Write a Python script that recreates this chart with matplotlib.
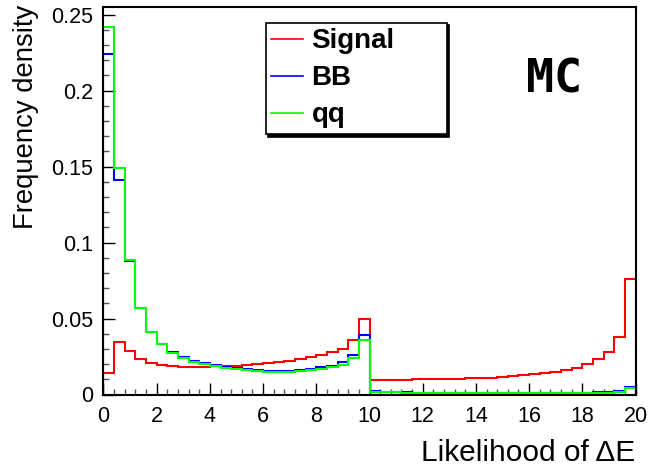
import numpy as np
import matplotlib
matplotlib.use("Agg")
import matplotlib.pyplot as plt
from matplotlib.lines import Line2D
from matplotlib.ticker import MultipleLocator, FixedLocator, FixedFormatter

# Histogram binning: 50 bins of width 0.4 over [0, 20]
x_min, x_max, n_bins = 0.0, 20.0, 50

# Normalised frequency densities per bin
signal = [0.0139, 0.0343, 0.0288, 0.0234, 0.0207, 0.0194, 0.0188, 0.0184, 0.0184, 0.0184, 0.0186, 0.0188,
          0.0190, 0.0194, 0.0198, 0.0205, 0.0212, 0.0220, 0.0231, 0.0249, 0.0260, 0.0278, 0.0297, 0.0359, 0.0497,
          0.0095, 0.0096, 0.0097, 0.0098, 0.0099, 0.0100, 0.0101, 0.0102, 0.0104, 0.0106, 0.0107, 0.0109, 0.0113,
          0.0120, 0.0126, 0.0133, 0.0139, 0.0150, 0.0163, 0.0174, 0.0199, 0.0232, 0.0278, 0.0378, 0.0760]

bb = [0.224, 0.141, 0.0877, 0.0570, 0.0413, 0.0332, 0.0282, 0.0247, 0.0222, 0.0205, 0.0196, 0.0184,
      0.0172, 0.0165, 0.0161, 0.0157, 0.0157, 0.0157, 0.0161, 0.0170, 0.0179, 0.0190, 0.0212, 0.0260, 0.0394,
      0.0020, 0.0018, 0.0016, 0.0014, 0.0013, 0.0012, 0.0011, 0.0011, 0.0010, 0.0010, 0.0010, 0.0010, 0.0010,
      0.0010, 0.0010, 0.0010, 0.0010, 0.0010, 0.0010, 0.0011, 0.0012, 0.0014, 0.0017, 0.0025, 0.0051]

qq = [0.242, 0.149, 0.0888, 0.0570, 0.0413, 0.0332, 0.0276, 0.0243, 0.0214, 0.0201, 0.0190, 0.0176,
      0.0166, 0.0158, 0.0153, 0.0150, 0.0150, 0.0150, 0.0153, 0.0161, 0.0167, 0.0179, 0.0194, 0.0238, 0.0359,
      0.0018, 0.0016, 0.0014, 0.0012, 0.0011, 0.0010, 0.0009, 0.0009, 0.0008, 0.0008, 0.0008, 0.0008, 0.0008,
      0.0008, 0.0008, 0.0008, 0.0008, 0.0008, 0.0008, 0.0009, 0.0010, 0.0011, 0.0013, 0.0018, 0.0041]

series_names = ["Signal", "BB", "qq"]
series_colors = ["#ff0000", "#0000ff", "#00ff00"]

x_ticks = [0, 2, 4, 6, 8, 10, 12, 14, 16, 18, 20]
y_ticks = [0, 0.05, 0.1, 0.15, 0.2, 0.25]
y_tick_labels = ["0", "0.05", "0.1", "0.15", "0.2", "0.25"]

x_label = "Likelihood of \u0394E"
y_label = "Frequency density"
tag = "MC"

plt.rcParams["font.family"] = ["Liberation Sans", "DejaVu Sans"]

W, H = 648, 468
fig = plt.figure(figsize=(W / 100, H / 100), dpi=100)
ax = fig.add_axes([103.5 / W, 1 - 394.5 / H, 532 / W, 387.5 / H])

edges = np.linspace(x_min, x_max, n_bins + 1)
for vals, col in zip([signal, bb, qq], series_colors):
    ax.stairs(vals, edges, baseline=0, color=col, lw=1.5, zorder=3)

ax.set_xlim(x_min, x_max)
ax.set_ylim(0, 0.255)

ax.xaxis.set_major_locator(FixedLocator(x_ticks))
ax.xaxis.set_minor_locator(MultipleLocator(0.4))
ax.yaxis.set_major_locator(FixedLocator(y_ticks))
ax.yaxis.set_major_formatter(FixedFormatter(y_tick_labels))
ax.yaxis.set_minor_locator(MultipleLocator(0.01))

ax.tick_params(which="both", direction="in", top=False, right=False, width=1.0, colors="black")
ax.tick_params(which="major", length=8.5, labelsize=15.5)
ax.tick_params(which="minor", length=4.2, color="#555555")
ax.tick_params(axis="y", which="major", pad=7.5)
ax.tick_params(axis="x", which="major", pad=8.5)

for s in ax.spines.values():
    s.set_linewidth(1.5)
    s.set_zorder(5)

ax.set_xlabel(x_label, fontsize=21.5, loc="right")
ax.xaxis.set_label_coords(1.0, -0.114)
ax.set_ylabel(y_label, fontsize=19.8, loc="top")
ax.yaxis.set_label_coords(-0.122, 1.005)

handles = [Line2D([], [], color=c, lw=1.2) for c in series_colors]
leg = ax.legend(handles, series_names, loc="upper left",
                bbox_to_anchor=(265.7 / W, 1 - 22.7 / H, 181 / W, 0.0),
                bbox_transform=fig.transFigure, mode="expand", borderaxespad=0,
                prop={"family": "Liberation Sans", "weight": "bold", "size": 20},
                handlelength=1.15, handletextpad=0.3, borderpad=0.2, labelspacing=0.4,
                frameon=True, fancybox=False, edgecolor="black", framealpha=1,
                shadow={"color": "black", "alpha": 1})
leg.get_frame().set_linewidth(1.2)

fig.text(554 / W, 1 - 92.7 / H, tag, ha="center", va="baseline",
         family="DejaVu Sans Mono", weight="bold", fontsize=33.5)

fig.savefig("out.png", dpi=100)
